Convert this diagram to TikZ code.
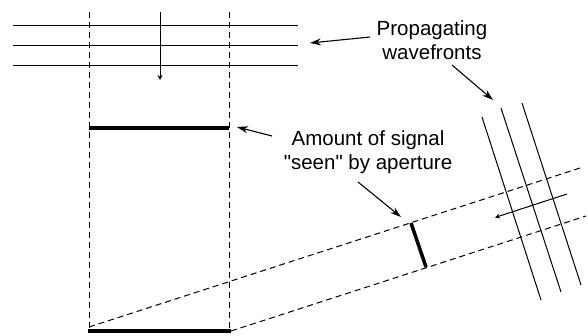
\documentclass[tikz,border=0pt]{standalone}
\usepackage{fontspec}
\setmainfont{Liberation Sans}
\usetikzlibrary{
	arrows.meta,
	positioning
}

\tikzset{
	wave/.style={line width=1pt},
	aperture/.style={line width=1pt, dash pattern=on 6pt off 4pt},
	bar/.style={line width=4.5pt},
	pointer/.style={line width=1.1pt, -{Stealth[length=11pt,width=7pt]}},
	travel/.style={line width=1pt, -{Stealth[length=5pt,width=5pt]}},
	label/.style={font=\fontsize{20.5}{24}\selectfont, align=center, inner sep=0pt}
}

\begin{document}
\begin{tikzpicture}[x=1pt, y=-1pt]
	\useasboundingbox (0,0) rectangle (588,335);
	% incoming plane wave from the top
	\foreach \y in {25,45,65}
		\draw[wave] (13,\y) -- (298,\y);
	\coordinate (V0) at (160,12);
	\coordinate (V1) at (160,80);
	\draw[travel] (V0) -- (V1);
	% aperture edges
	\coordinate (L0) at (89,12);
	\coordinate (L1) at (89,331);
	\coordinate (R0) at (229,12);
	\coordinate (R1) at (229,331);
	\draw[aperture] (L0) -- (L1);
	\draw[aperture] (R0) -- (R1);
	\draw[bar] (89,128) -- (229,128);
	\draw[bar] (88,331) -- (231,331);
	% oblique plane wave
	\coordinate (U0) at (89,327);
	\coordinate (U1) at (580,168);
	\coordinate (D0) at (231,331);
	\coordinate (D1) at (586,216);
	\draw[aperture] (U0) -- (U1);
	\draw[aperture] (D0) -- (D1);
	\draw[wave] (482,117) -- (541,300);
	\draw[wave] (501,108) -- (561,292);
	\draw[wave] (522,103) -- (581,285);
	\coordinate (P0) at (567,194);
	\coordinate (P1) at (495,217.5);
	\draw[travel] (P0) -- (P1);
	\coordinate (S0) at (411,223);
	\coordinate (S1) at (426,267);
	\draw[line width=3.5pt] (S0) -- (S1);
	% labels
	\node[label] (fronts) at (432,40) {Propagating\\wavefronts};
	\node[label] (seen) at (368,152) {Amount of signal\\\textquotedbl seen\textquotedbl{} by aperture};
	\draw[pointer] (370,37) -- (310,43);
	\draw[pointer] (452,65) -- (493,100);
	\draw[pointer] (272,136) -- (237,127);
	\draw[pointer] (358,182) -- (401,217);
\end{tikzpicture}
\end{document}
